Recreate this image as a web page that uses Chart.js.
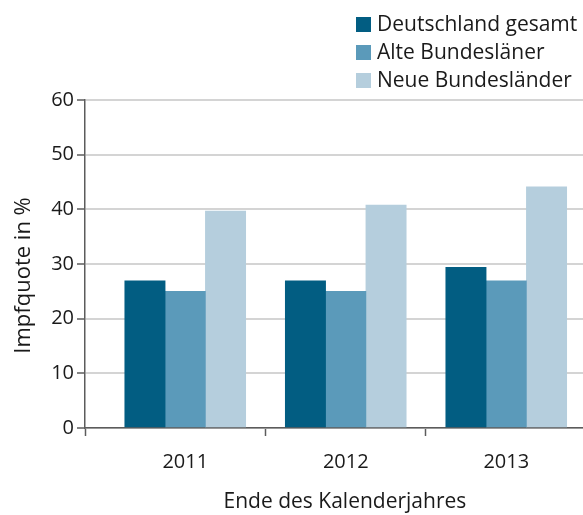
<!DOCTYPE html>
<html>
<head>
<meta charset="utf-8">
<script src="https://cdn.jsdelivr.net/npm/chart.js@4/dist/chart.umd.min.js"></script>
<style>
  body { margin: 0; background: #fff; }
  #wrap { position: relative; width: 583px; height: 515px; }
  #legend { position: absolute; left: 356px; top: 9px; font: 21px "Open Sans", sans-serif; color: #1a1a1a; }
  #legend div { height: 28px; line-height: 28px; white-space: nowrap; }
  #legend span { display: inline-block; width: 15px; height: 15px; margin-right: 6px; vertical-align: -1px; }
</style>
</head>
<body>
<div id="wrap">
  <canvas id="chBar" width="583" height="515"></canvas>
  <div id="legend"></div>
</div>
<script>
/* Impfquote bar chart */
const years = ['2011', '2012', '2013'];
const seriesNames = ['Deutschland gesamt', 'Alte Bundesläner', 'Neue Bundesländer'];
const deutschland = [26.9, 26.9, 29.4];
const alteLaender = [25.0, 25.0, 26.9];
const neueLaender = [39.7, 40.8, 44.1];
const yTicks = [0, 10, 20, 30, 40, 50, 60];

const barColors = ['#025d82', '#5b9aba', '#b5cedd'];
const axisColor = '#5c5c5c';
const font = {family: '"Open Sans", sans-serif', size: 20};
const nbsp = '\u00a0';

// x range: axis origin sits a bit left of the first year group
const xMin = -0.6246;
const xMax = 2.4782;

function toPoints(arr) {
    return arr.map(function (v, i) { return {x: i, y: v}; });
}

const seriesValues = [deutschland, alteLaender, neueLaender];
const datasets = seriesValues.map(function (vals, i) {
    return {
        label: seriesNames[i],
        data: toPoints(vals),
        backgroundColor: barColors[i],
        barThickness: 40.3
    };
});

var chBar = document.getElementById('chBar');
new Chart(chBar, {
    type: 'bar',
    data: {datasets: datasets},
    options: {
        responsive: false,
        animation: false,
        devicePixelRatio: 1,
        layout: {padding: {top: 100, right: 0, left: 0, bottom: 0}},
        plugins: {legend: {display: false}, tooltip: {enabled: false}},
        scales: {
            x: {
                type: 'linear',
                offset: false,
                min: xMin,
                max: xMax,
                afterBuildTicks: function (scale) {
                    scale.ticks = [xMin, 0, 0.5, 1, 1.5, 2].map(function (v) { return {value: v}; });
                },
                afterFit: function (scale) { scale.height = 87; },
                ticks: {
                    color: '#1a1a1a',
                    font: font,
                    padding: 14,
                    maxRotation: 0,
                    autoSkip: false,
                    callback: function (value) {
                        return Number.isInteger(value) ? years[value] : '';
                    }
                },
                grid: {
                    offset: false,
                    drawOnChartArea: false,
                    drawTicks: true,
                    tickLength: 8,
                    tickWidth: 1.5,
                    tickColor: function (ctx) {
                        return (ctx.tick && Number.isInteger(ctx.tick.value)) ? 'rgba(0,0,0,0)' : axisColor;
                    }
                },
                border: {color: axisColor, width: 1.5},
                title: {
                    display: true,
                    // a few leading spaces nudge the title right like in the original
                    text: nbsp.repeat(4) + 'Ende des Kalenderjahres',
                    color: '#1a1a1a',
                    font: {family: font.family, size: 21},
                    padding: {top: 5, bottom: 0}
                }
            },
            y: {
                min: 0,
                max: 60,
                afterBuildTicks: function (scale) {
                    scale.ticks = yTicks.map(function (v) { return {value: v}; });
                },
                afterFit: function (scale) { scale.width = 85; },
                ticks: {color: '#1a1a1a', font: font, padding: 3},
                grid: {
                    color: '#d4d4d4',
                    lineWidth: 2,
                    tickColor: axisColor,
                    tickLength: 8,
                    tickWidth: 1.5
                },
                border: {color: axisColor, width: 1.5},
                title: {
                    display: true,
                    text: 'Impfquote in %' + nbsp.repeat(4),
                    color: '#1a1a1a',
                    font: {family: font.family, size: 22},
                    padding: {top: 11, bottom: 0}
                }
            }
        }
    }
});

// legend as plain text next to the plot
const legend = document.getElementById('legend');
seriesNames.forEach(function (name, i) {
    const row = document.createElement('div');
    const box = document.createElement('span');
    box.style.background = barColors[i];
    row.appendChild(box);
    row.appendChild(document.createTextNode(name));
    legend.appendChild(row);
});
</script>
</body>
</html>
